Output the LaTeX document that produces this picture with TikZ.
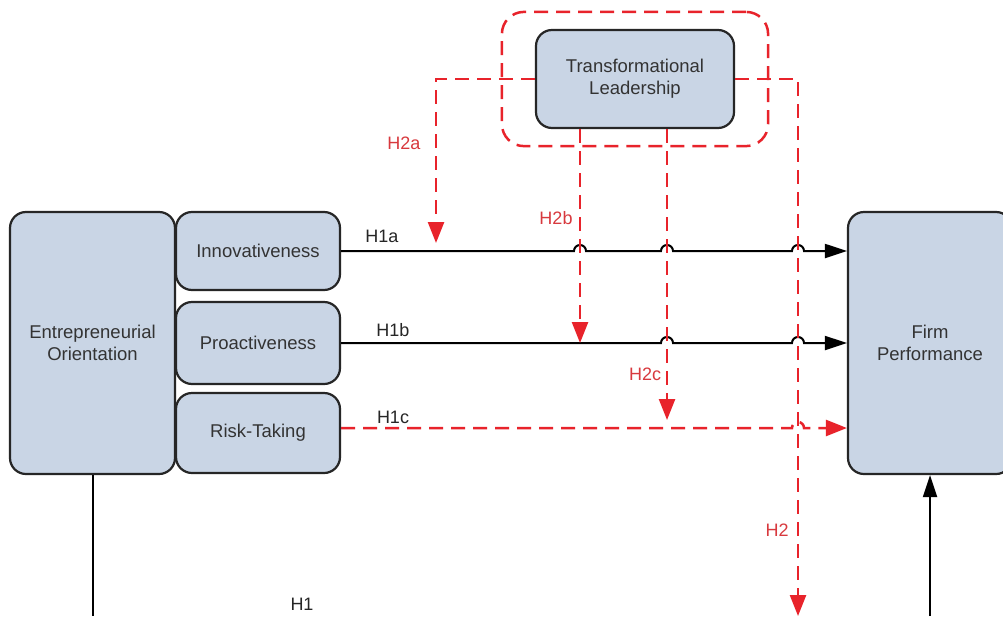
\documentclass[tikz,border=0pt]{standalone}
\usepackage{fontspec}
\setmainfont{Liberation Sans}
\usetikzlibrary{arrows.meta,fit}
\definecolor{boxfill}{HTML}{C9D5E5}
\definecolor{lred}{HTML}{E8232B}
\definecolor{labred}{HTML}{D8393E}
\definecolor{txt}{HTML}{333333}
\begin{document}
\begin{tikzpicture}[x=1pt,y=-1pt,
 box/.style={draw=black!85, line width=2.2pt, fill=boxfill, rounded corners=16pt, text=txt, align=center, font=\fontsize{18.5}{22}\selectfont, inner sep=0pt},
 blk/.style={draw=black, line width=2pt, -{Triangle[length=22pt,width=14pt]}},
 blkplain/.style={draw=black, line width=2pt},
 rdash/.style={draw=lred, line width=2.5pt, dash pattern=on 14pt off 8pt},
 rarr/.style={rdash, -{Triangle[length=21pt,width=16pt]}},
 lab/.style={font=\fontsize{18}{21}\selectfont, text=black!85},
 rlab/.style={lab, text=labred}]
\clip (0,0) rectangle (1003,616);
\fill[white] (0,0) rectangle (1003,616);
% boxes
\node[box, minimum width=165pt, minimum height=262pt] (eo) at (92.5,343) {Entrepreneurial\\Orientation};
\node[box, minimum width=164pt, minimum height=78pt] (inn) at (258,251) {Innovativeness};
\node[box, minimum width=164pt, minimum height=82pt] (pro) at (258,343) {Proactiveness};
\node[box, minimum width=164pt, minimum height=80pt] (risk) at (258,433) {Risk-Taking};
\node[box, minimum width=164pt, minimum height=262pt] (fp) at (930,343) {Firm\\Performance};
\node[box, minimum width=198pt, minimum height=98pt] (tl) at (635,79) {Transformational\\Leadership};
\node[rdash, rounded corners=22pt, fit=(tl), inner xsep=33pt, inner ysep=17pt] (frame) {};
% x positions of the vertical moderator lines
\coordinate (xa) at (436,0);
\coordinate (xb) at (580,0);
\coordinate (xc) at (667,0);
\coordinate (xd) at (798,0);
\coordinate (bot) at (0,616);
% horizontal paths with hops
\draw[blk] (inn.east) -- ([xshift=-6pt]inn.east -| xb) arc[start angle=180,end angle=0,radius=6pt]
  -- ([xshift=-6pt]inn.east -| xc) arc[start angle=180,end angle=0,radius=6pt]
  -- ([xshift=-6pt]inn.east -| xd) arc[start angle=180,end angle=0,radius=6pt]
  -- (inn.east -| fp.west);
\draw[blk] (pro.east) -- ([xshift=-6pt]pro.east -| xc) arc[start angle=180,end angle=0,radius=6pt]
  -- ([xshift=-6pt]pro.east -| xd) arc[start angle=180,end angle=0,radius=6pt]
  -- (pro.east -| fp.west);
\draw[rarr] ([yshift=5pt]risk.east) -- ([xshift=-6pt,yshift=5pt]risk.east -| xd) arc[start angle=180,end angle=0,radius=6pt]
  -- ([yshift=5pt]risk.east -| fp.west);
% moderator arrows
\coordinate (a2) at (436,243);
\coordinate (c2) at (667,420);
\draw[rarr] (tl.west) -| (a2);
\draw[rarr] (tl.south -| xb) -- (xb |- pro.east);
\draw[rarr] (tl.south -| xc) -- (c2);
\draw[rarr] (tl.east) -| (xd |- bot);
% H1 main effect
\draw[blkplain] (eo.south) -- (eo.south |- bot);
\draw[blk] (fp.south |- bot) -- (fp.south);
% labels
\node[lab] (l1a) at (382,236) {H1a};
\node[lab] (l1b) at (393,330) {H1b};
\node[lab] (l1c) at (393,417) {H1c};
\node[lab] (l1) at (302,604) {H1};
\node[rlab] (l2a) at (404,143) {H2a};
\node[rlab] (l2b) at (556,218) {H2b};
\node[rlab] (l2c) at (645,374) {H2c};
\node[rlab] (l2) at (777,530) {H2};
\end{tikzpicture}
\end{document}
